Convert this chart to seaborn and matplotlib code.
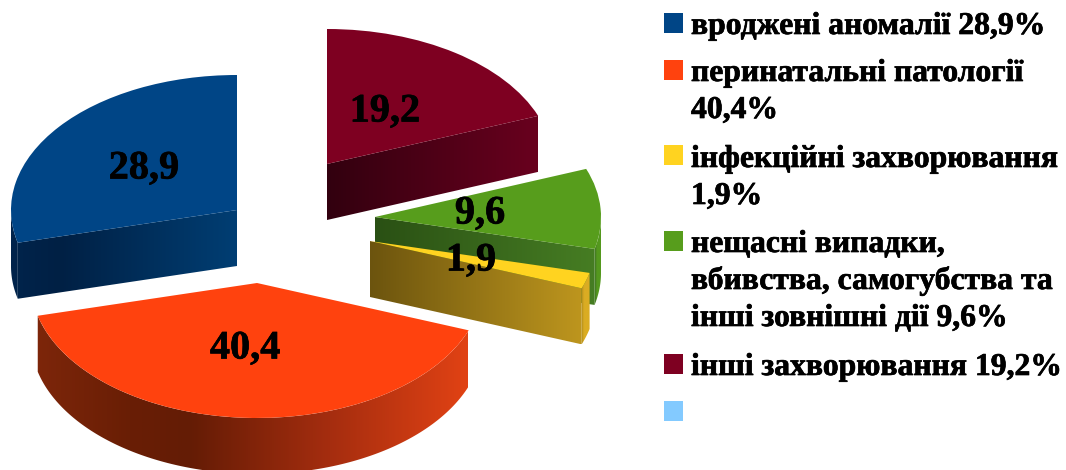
import numpy as np
import matplotlib
matplotlib.use("Agg")
import matplotlib.pyplot as plt
import matplotlib.patheffects as pe
import seaborn as sns
from matplotlib.colors import LinearSegmentedColormap
from matplotlib.patches import Polygon, Rectangle
from matplotlib.transforms import Affine2D

# ---- data ----
values = [28.9, 40.4, 1.9, 9.6, 19.2]
categories = [
    "вроджені аномалії",
    "перинатальні патології",
    "інфекційні захворювання",
    "нещасні випадки,\nвбивства, самогубства та\nінші зовнішні дії",
    "інші захворювання",
]
legend_breaks = [" ", "\n", "\n", " ", " "]
colors_hex = ["#004586", "#FF420E", "#FFD320", "#579D1C", "#7E0021"]
extra_legend_color = "#83CAFF"

# ---- layout (pixels, y measured from the top) ----
W, H = 1066, 470
RX, RY, DEPTH = 226, 135, 56
slice_centres = [(237, 210), (257, 283), (370, 241), (375, 217), (327, 164)]
label_pos = [(144, 169), (245, 349), (385, 112), (480, 214), (471, 261)]
label_order = [0, 1, 4, 3, 2]
side_stops = [
    [(10, (0, 36, 76)), (60, (0, 32, 68)), (237, (0, 62, 115))],
    [(37, (125, 38, 10)), (130, (105, 30, 5)), (190, (100, 28, 5)), (330, (165, 45, 15)), (468, (225, 66, 20))],
    [(370, (108, 84, 14)), (583, (190, 150, 30)), (584, (218, 172, 35)), (590, (218, 172, 35))],
    [(375, (42, 80, 20)), (596, (70, 125, 35)), (597, (84, 152, 30)), (602, (84, 152, 30))],
    [(327, (50, 0, 15)), (538, (105, 0, 30))],
]
draw_order = [4, 0, 3, 2, 1]
legend_x_box, legend_x_text, legend_box = 664, 691, 20
legend_box_top = [13, 60, 145, 231, 354, 401]
legend_baseline = [34, 81, 167, 252, 375]
legend_line = 37

sns.set_theme(style="white")
plt.rcParams["font.family"] = ["Liberation Serif", "DejaVu Serif"]
palette = sns.color_palette(colors_hex)

fig = plt.figure(figsize=(W / 100, H / 100), dpi=100, facecolor="white")
ax = fig.add_axes([0, 0, 1, 1])
wedges, _ = ax.pie(values, startangle=90, counterclock=True, colors=palette, radius=1)


def ellipse(cx, cy, deg):
    t = np.radians(deg)
    return np.column_stack([cx + RX * np.cos(t), cy + RY * np.sin(t)])


def gradient_fill(verts, stops, z):
    x0, x1 = stops[0][0], stops[-1][0]
    pos = [(s[0] - x0) / (x1 - x0) for s in stops]
    cmap = LinearSegmentedColormap.from_list(
        "g", [(p, tuple(c / 255 for c in s[1])) for p, s in zip(pos, stops)], N=512
    )
    y0, y1 = verts[:, 1].min(), verts[:, 1].max()
    im = ax.imshow(np.linspace(0, 1, 512).reshape(1, -1), extent=[x0, x1, y0, y1],
                   cmap=cmap, aspect="auto", origin="lower", zorder=z, interpolation="bilinear")
    im.set_clip_path(Polygon(verts, closed=True, transform=ax.transData))


for layer, i in enumerate(draw_order):
    w = wedges[i]
    cx, cy = slice_centres[i][0], H - slice_centres[i][1]
    z = 2 + layer * 3
    t1, t2 = w.theta1, w.theta2
    # visible part of the rim: the angles that face the viewer (sin < 0)
    degs = np.linspace(t1, t2, 400)
    vis = degs[np.sin(np.radians(degs)) < 0]
    if vis.size > 1:
        top = ellipse(cx, cy, vis)
        low = top - [0, DEPTH]
        gradient_fill(np.vstack([top, low[::-1]]), side_stops[i], z)
    # visible cut faces
    for th, show in ((t1, np.cos(np.radians(t1)) > 1e-6), (t2, np.cos(np.radians(t2)) < -1e-6)):
        if show:
            p = ellipse(cx, cy, np.array([th]))[0]
            quad = np.array([[cx, cy], p, p - [0, DEPTH], [cx, cy - DEPTH]])
            gradient_fill(quad, side_stops[i], z + 1)
    w.set_transform(Affine2D().scale(RX, RY).translate(cx, cy) + ax.transData)
    w.set_zorder(z + 2)
    w.set_linewidth(0)

heavy = [pe.withStroke(linewidth=0.5, foreground="black")]
for idx, (x, y) in zip(label_order, label_pos):
    ax.text(x, H - y, f"{values[idx]:.1f}".replace(".", ","), ha="center", va="center",
            fontsize=29, fontweight="bold", color="black", zorder=50, path_effects=heavy)

# legend
box_colors = list(palette) + [extra_legend_color]
for top, c in zip(legend_box_top, box_colors):
    ax.add_patch(Rectangle((legend_x_box, H - top - legend_box), legend_box - 1, legend_box,
                           facecolor=c, edgecolor="none", zorder=50))
for name, val, brk, base in zip(categories, values, legend_breaks, legend_baseline):
    full = name + brk + f"{val:.1f}".replace(".", ",") + "%"
    for k, line in enumerate(full.split("\n")):
        ax.text(legend_x_text, H - base - k * legend_line, line, ha="left", va="baseline",
                fontsize=22.8, fontweight="bold", color="black", zorder=50, path_effects=heavy)

ax.set_aspect("auto")
ax.set_xlim(0, W)
ax.set_ylim(0, H)
ax.axis("off")
fig.savefig("out.png", dpi=100, facecolor="white")
